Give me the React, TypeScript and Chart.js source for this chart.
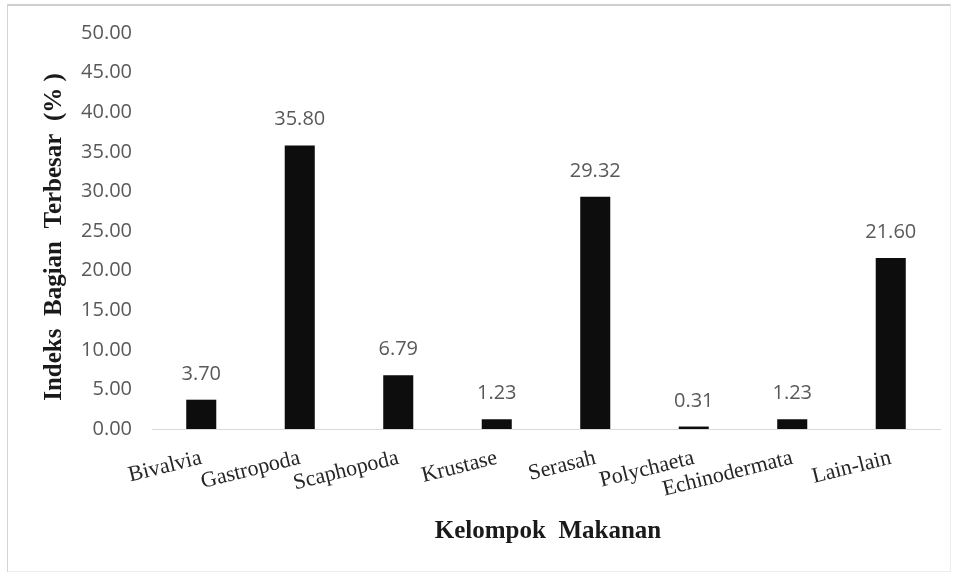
import React, { useEffect, useRef } from 'react';
import { Chart, registerables } from 'chart.js';

Chart.register(...registerables);

const categories = ['Bivalvia', 'Gastropoda', 'Scaphopoda', 'Krustase', 'Serasah', 'Polychaeta', 'Echinodermata', 'Lain-lain'];
const values = [3.7, 35.8, 6.79, 1.23, 29.32, 0.31, 1.23, 21.6];
const yMin = 0;
const yMax = 50;
const yStep = 5;
const yTitle = 'Indeks  Bagian  Terbesar  (% )';
const xTitle = 'Kelompok  Makanan';

const W = 956;
const H = 576;

const overlayPlugin = {
  id: 'overlayText',
  afterDatasetsDraw(chart: any) {
    const ctx = chart.ctx;
    const meta = chart.getDatasetMeta(0);
    const area = chart.chartArea;
    ctx.save();
    ctx.font = '20px "Open Sans"';
    ctx.fillStyle = '#595959';
    ctx.textAlign = 'center';
    ctx.textBaseline = 'alphabetic';
    meta.data.forEach((bar: any, i: number) => {
      ctx.fillText(values[i].toFixed(2), bar.x, bar.y - 20);
    });
    ctx.font = 'bold 25px "Liberation Serif"';
    ctx.fillStyle = '#1a1a1a';
    ctx.textBaseline = 'middle';
    ctx.fillText(xTitle, (area.left + area.right) / 2 + 2, 532);
    ctx.translate(55, (area.top + area.bottom) / 2 + 6);
    ctx.rotate(-Math.PI / 2);
    ctx.fillText(yTitle, 0, 0);
    ctx.restore();
  },
};

export default function App() {
  const ref = useRef<HTMLCanvasElement | null>(null);

  useEffect(() => {
    if (!ref.current) return;
    const chart = new Chart(ref.current, {
      type: 'bar',
      data: {
        labels: categories,
        datasets: [
          {
            data: values,
            backgroundColor: '#0d0d0d',
            borderWidth: 0,
            barPercentage: 0.305,
            categoryPercentage: 1,
          },
        ],
      },
      options: {
        responsive: false,
        animation: false,
        devicePixelRatio: 1,
        layout: { padding: { top: 33, right: 16, left: 0, bottom: 0 } },
        plugins: {
          legend: { display: false },
          tooltip: { enabled: false },
        },
        scales: {
          x: {
            grid: { display: false, drawTicks: false },
            border: { display: true, color: '#d9d9d9', width: 1 },
            ticks: {
              autoSkip: false,
              minRotation: 14,
              maxRotation: 14,
              padding: 16,
              color: '#262626',
              font: { family: '"Liberation Serif", "Times New Roman", serif', size: 22 },
            },
            afterFit: (scale: any) => {
              scale.height = 147;
            },
          },
          y: {
            min: yMin,
            max: yMax,
            grid: { display: false, drawTicks: false },
            border: { display: false },
            ticks: {
              stepSize: yStep,
              padding: 20,
              color: '#595959',
              font: { family: '"Open Sans", sans-serif', size: 20 },
              callback: (v: any) => Number(v).toFixed(2),
            },
            afterFit: (scale: any) => {
              scale.width = 152;
            },
          },
        },
      },
      plugins: [overlayPlugin],
    });
    return () => chart.destroy();
  }, []);

  return (
    <div style={{ position: 'absolute', left: 0, top: 0, width: W, height: H, background: '#ffffff' }}>
      <canvas ref={ref} width={W} height={H} style={{ display: 'block', width: W, height: H }} />
      <div
        style={{
          position: 'absolute',
          left: 7,
          top: 4,
          width: 944,
          height: 568,
          borderTop: '2px solid #cfcfcf',
          borderLeft: '1px solid #d4d4d4',
          borderRight: '1px solid #ececec',
          borderBottom: '1px solid #ececec',
          boxSizing: 'border-box',
          pointerEvents: 'none',
        }}
      />
    </div>
  );
}
